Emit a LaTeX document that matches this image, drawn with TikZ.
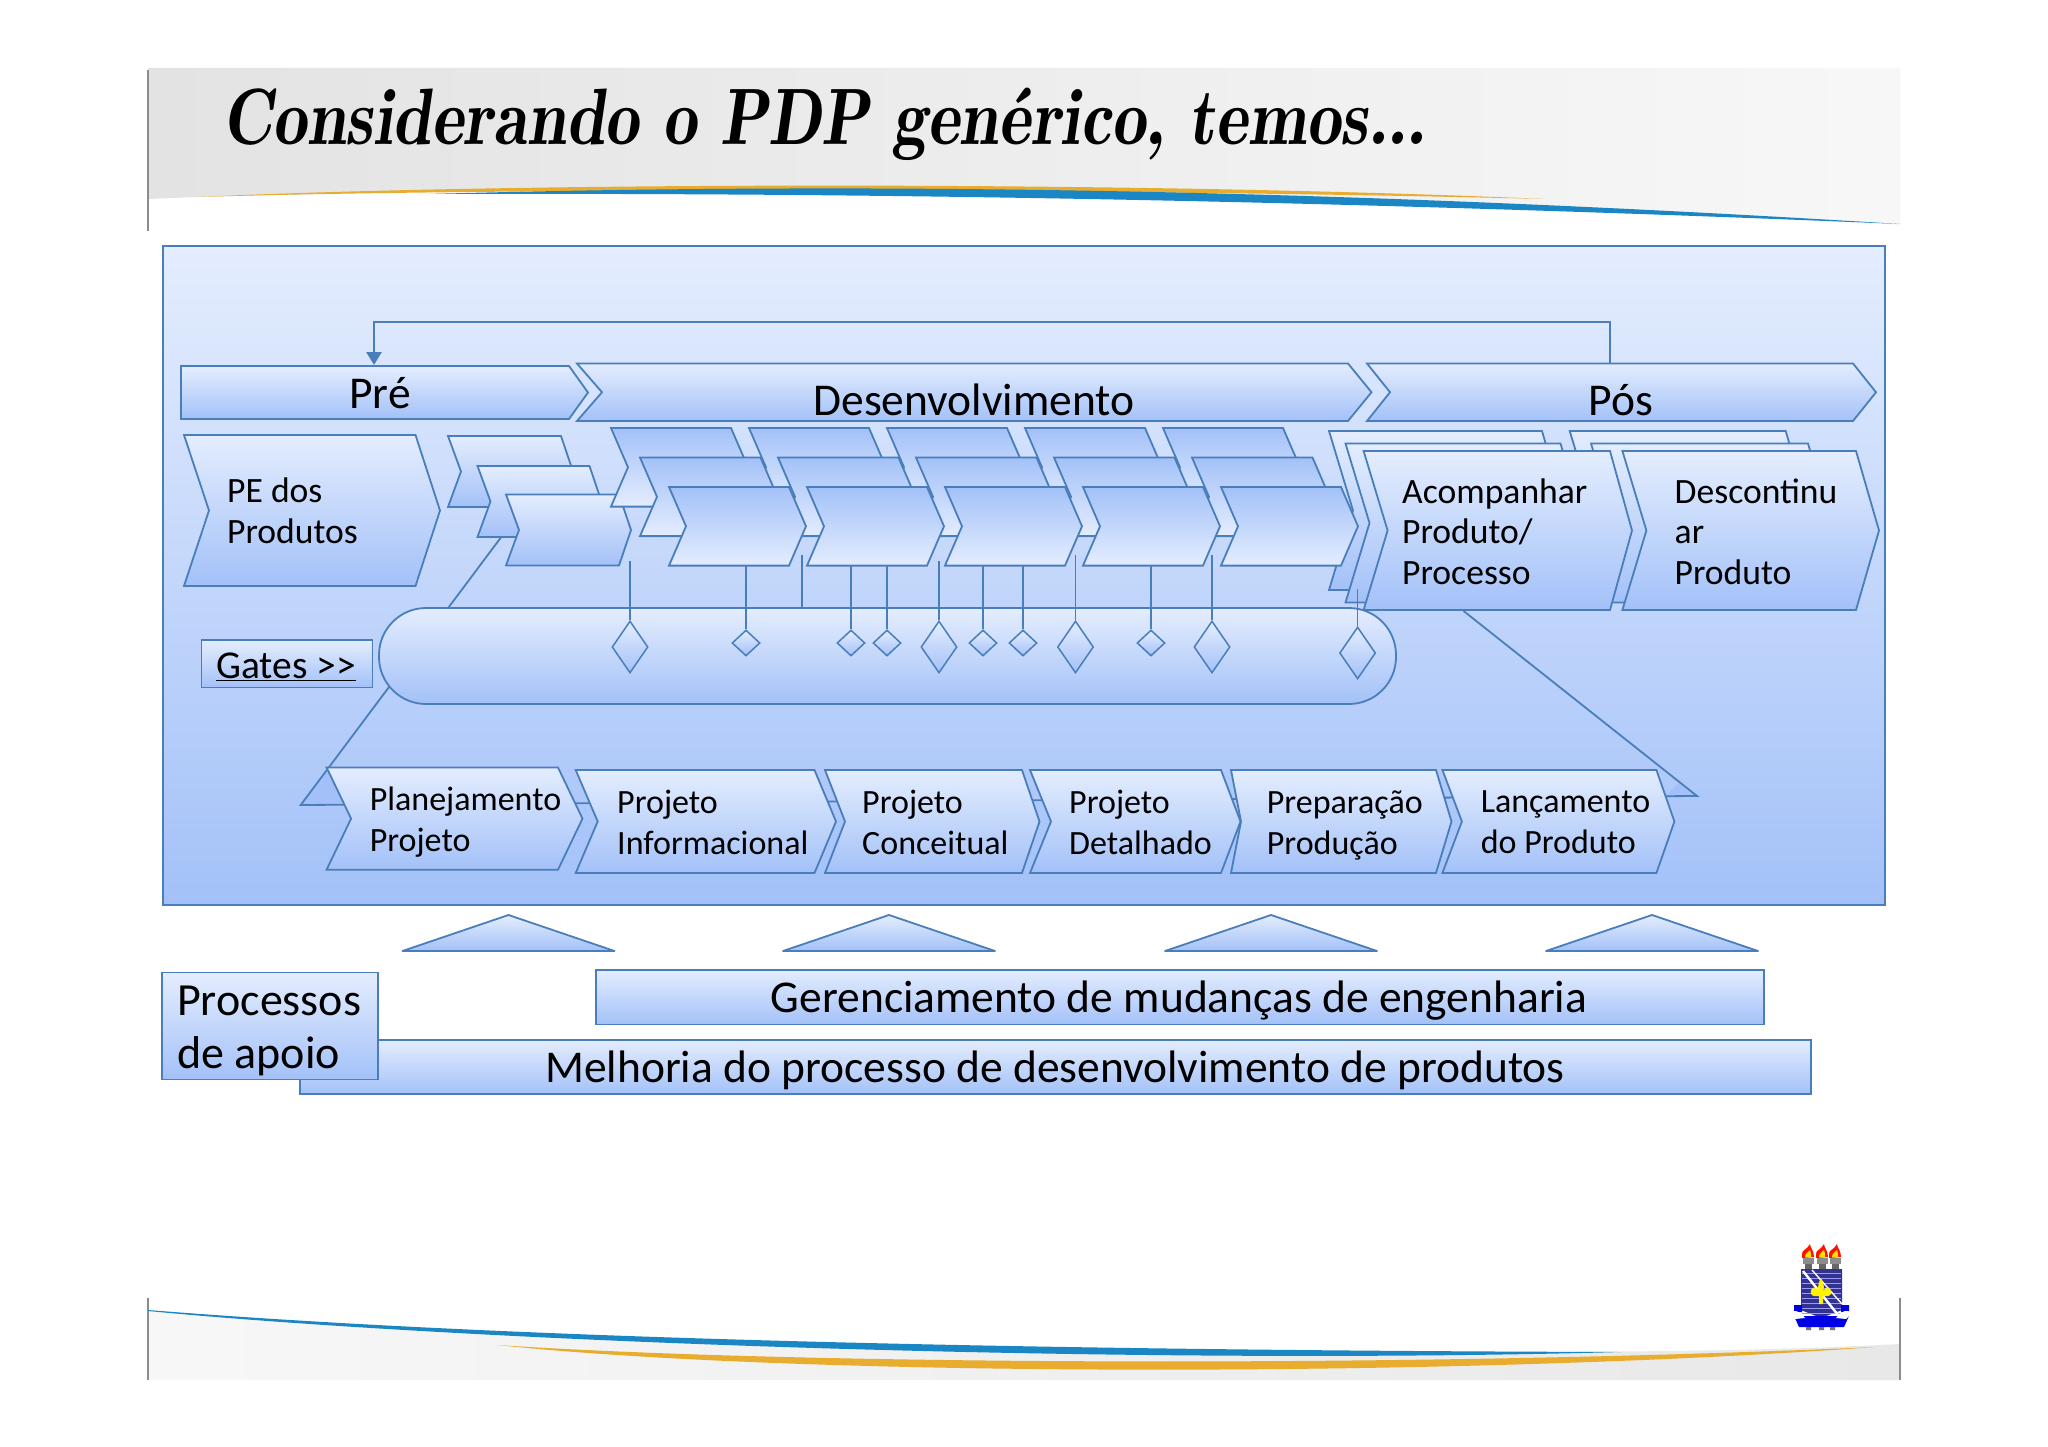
\documentclass[tikz,border=0pt]{standalone}
\usepackage{fontspec}
\usepackage{graphicx}
\setmainfont{Carlito}
\usetikzlibrary{arrows.meta,shapes.geometric,calc}
\definecolor{ln}{HTML}{4A7EBB}
\definecolor{lite}{HTML}{E4EDFE}
\definecolor{dark}{HTML}{A3C1F8}
\definecolor{gold}{HTML}{E8AC2E}
\definecolor{sky}{HTML}{1B86C4}
\tikzset{
  down/.style={top color=lite,bottom color=dark,draw=ln,line width=1.8pt,line join=miter},
  up/.style={top color=dark,bottom color=lite,draw=ln,line width=1.8pt,line join=miter},
  stem/.style={draw=ln,line width=1.7pt},
  gate/.style={diamond,inner sep=0pt,top color=lite,bottom color=dark,draw=ln,line width=1.5pt},
  gatebig/.style={gate,minimum width=36pt,minimum height=52pt},
  gatesmall/.style={gate,minimum width=28pt,minimum height=26pt},
  lbl/.style={anchor=west,align=left,inner sep=0pt,text=black,font=\fontsize{34}{41}\selectfont},
  lblbig/.style={anchor=west,align=left,inner sep=0pt,text=black,font=\fontsize{35.6}{40.6}\selectfont},
  big/.style={anchor=center,inner sep=0pt,text=black,font=\fontsize{45.5}{50}\selectfont},
}
% chevron: style, x, y, w, h, tip, notch
\newcommand{\chev}[7]{\path[#1] (#2,#3) -- ++(#4,0) -- ++(#6,{#5/2}) -- ++(-#6,{#5/2}) -- ++(-#4,0) -- ++(#7,{-#5/2}) -- cycle;}
\begin{document}
\begin{tikzpicture}[x=1pt,y=-1pt]
\useasboundingbox (0,0) rectangle (2048,1447);
\fill[white] (0,0) rectangle (2048,1447);
% header band
\path[left color=black!11,middle color=black!9,right color=black!3,shading angle=90]
  (148,68) -- (1900,68) -- (1900,225) .. controls (1250,186) and (700,182) .. (197,197) -- (148,199) -- cycle;
\draw[black!45,line width=1.2pt] (148,70) -- (148,231);
\fill[gold] (197,197) .. controls (500,183) and (1100,180) .. (1545,199) .. controls (1100,188) and (500,188) .. (197,197) -- cycle;
\fill[sky] (427,194) .. controls (800,184) and (1250,184) .. (1900,224) .. controls (1250,197) and (800,193) .. (427,194) -- cycle;
% footer band
\path[left color=black!3,middle color=black!13,right color=black!9]
  (148,1311) .. controls (450,1336) and (900,1352) .. (1400,1352) .. controls (1600,1352) and (1750,1352) .. (1900,1344) -- (1900,1380) -- (148,1380) -- cycle;
\draw[black!45,line width=1.2pt] (148,1298) -- (148,1380) (1900,1298) -- (1900,1380);
\fill[gold] (497,1345) .. controls (800,1365) and (1400,1368) .. (1875,1347) .. controls (1450,1378) and (800,1377) .. (497,1345) -- cycle;
\fill[sky] (148,1310) .. controls (450,1334) and (900,1350) .. (1622,1352) .. controls (1100,1366) and (450,1340) .. (148,1311) -- cycle;
% title
\node[anchor=base west,inner sep=0pt] (title) at (222,145) {\scalebox{0.87}[1]{\fontfamily{lmr}\fontsize{80}{90}\selectfont\bfseries\itshape Considerando o PDP genérico, temos...}};
% panel
\path[top color=lite,bottom color=dark,draw=ln,line width=2pt] (163,246) rectangle (1885,905);
% trapezoid behind the flow
\fill[dark] (300.7,805) -- (329,767) -- (344,805) -- cycle;
\fill[dark] (1665,796) -- (1680,782) -- (1697,796) -- cycle;
\draw[ln,line width=1.8pt] (502,536) -- (300.7,805) -- (1697,796) -- (1463.6,611);
% Phase arrows
\chev{down}{181}{366}{388}{53}{19}{0}
\chev{down}{577}{363.5}{771}{57.5}{23.5}{25}
\chev{down}{1367}{363.5}{486}{57.5}{23}{23}
\node[big] (pre) at (380,393) {Pré};
\node[big] (des) at (974,400) {Desenvolvimento};
\node[big] (pos) at (1621,400) {Pós};
\coordinate (fbA) at (1610,363.5);
\coordinate (fbB) at (374,365);
\draw[draw=ln,line width=2.6pt,-{Triangle[length=13pt,width=15pt]}] (fbA) -- ++(0,-41.5) -| (fbB);
% PE dos Produtos
\chev{down}{184}{435}{231.5}{151}{24.5}{25}
\node[lblbig] (pe) at (227,511) {PE dos\\Produtos};
% small stack
\chev{down}{448}{436}{113}{71}{12}{13}
\chev{down}{477.5}{466}{112}{71}{12}{13}
\chev{down}{506}{494.5}{113}{71}{12}{13}
% rear layers of the post stacks
\chev{down}{1329}{431}{213}{159}{23}{24}
\chev{down}{1345.5}{443.5}{215}{159}{23}{24}
\chev{down}{1569.7}{431}{216}{159}{23}{24}
\chev{down}{1591}{443.5}{217}{159}{23}{24}
% five columns of stacks, layer by layer
\foreach \c in {4,3,2,1,0}{
  \pgfmathsetmacro{\xa}{611+138*\c}
  \chev{up}{\xa}{428}{120}{78.6}{17}{17}
}
\foreach \c in {4,3,2,1,0}{
  \pgfmathsetmacro{\xb}{640+138*\c}
  \chev{up}{\xb}{457.5}{120.5}{78.6}{17}{17}
}
\foreach \c in {4,3,2,1,0}{
  \pgfmathsetmacro{\xc}{669+138*\c}
  \chev{up}{\xc}{487}{120}{78.6}{17}{17}
}
% capsule
\path[down,rounded corners=47pt] (379,608) rectangle (1396,704);
% post stacks, front
\chev{down}{1363.6}{451}{246.4}{159}{22}{24}
\chev{down}{1622.4}{451}{233.6}{159}{23}{24}
\node[lblbig] (ac) at (1402,531.6) {Acompanhar\\Produto/\\Processo};
\node[lblbig] (dc) at (1674.5,531.6) {Descontinu\\ar\\Produto};
% gates
\node[gatebig] (d1) at (630,647) {};
\node[gatesmall] (d2) at (746,643) {};
\node[gatesmall] (d3) at (851,643) {};
\node[gatesmall] (d4) at (887,643) {};
\node[gatebig] (d5) at (939,647) {};
\node[gatesmall] (d6) at (983,643) {};
\node[gatesmall] (d7) at (1023,643) {};
\node[gatebig] (d8) at (1075.5,647) {};
\node[gatesmall] (d9) at (1151,643) {};
\node[gatebig] (d10) at (1212,647) {};
\node[gatebig,minimum height=52pt] (d11) at (1357.6,653) {};
\foreach \n/\t in {d1/561,d2/565.6,d3/565.6,d4/565.6,d5/561,d6/565.6,d7/565.6,d8/555,d9/565.6,d10/555,d11/589}{
  \draw[stem] (\n.north) -- (\n.north |- 0,\t);
}
\coordinate (tkA) at (802,555);
\coordinate (tkB) at (802,608);
\draw[stem] (tkA) -- (tkB);
% Gates box
\path[down] (201.5,640) rectangle (372.5,687.5);
\node[anchor=center,inner sep=0pt,font=\fontsize{39.5}{40}\selectfont] (gt) at (286,667) {\underline{Gates >{}>}};
% lower row
\chev{down}{326.6}{767.5}{231.4}{102.2}{24.5}{24.5}
\chev{down}{575.7}{770}{238.8}{103}{21.5}{22}
\chev{down}{825}{770}{197}{103}{17.5}{20}
\chev{down}{1030}{770}{191}{103}{19.5}{21}
\chev{down}{1231}{770}{205}{103}{15.5}{10}
\chev{down}{1442.4}{770}{214}{103}{18}{19.5}
\node[lbl] (p1) at (369.6,822) {Planejamento\\Projeto};
\node[lbl] (p2) at (617,822) {Projeto\\Informacional};
\node[lbl] (p3) at (862,822) {Projeto\\Conceitual};
\node[lbl] (p4) at (1069,822) {Projeto\\Detalhado};
\node[lbl] (p5) at (1266.7,825) {Preparação\\Produção};
\node[lbl] (p6) at (1480.6,822) {Lançamento\\do Produto};
% triangles
\foreach \x in {508.5,889,1271,1652}{
  \path[down,line width=1.8pt,line join=round] (\x-106,951) -- (\x,915) -- (\x+106,951) -- cycle;
}
% support processes
\path[down] (596,970) rectangle (1764,1024.5);
\node[big] (ger) at (1179,1001) {Gerenciamento de mudanças de engenharia};
\path[down] (299.6,1040) rectangle (1811,1094);
\node[big] (mel) at (1055,1070) {Melhoria do processo de desenvolvimento de produtos};
\path[down] (162,972.5) rectangle (377.7,1079.5);
\node[anchor=west,align=left,inner sep=0pt,font=\fontsize{46}{53}\selectfont] (pr) at (177,1031) {Processos\\de apoio};
% crest
\begin{scope}
  \foreach \x in {1808,1822,1835}{
    \fill[red!85!orange] (\x-6,1255) .. controls (\x-7,1250) and (\x-1,1250) .. (\x+2,1244) .. controls (\x+2,1248) and (\x+6,1250) .. (\x+6,1257) -- (\x-6,1258) -- cycle;
    \fill[yellow!85!orange] (\x-3,1257) .. controls (\x-3,1253) and (\x,1253) .. (\x+2,1250) .. controls (\x+3,1252) and (\x+3,1255) .. (\x+3,1257) -- cycle;
    \fill[black!45] (\x-5.5,1258) rectangle (\x+5.5,1264);
    \fill[black!60] (\x-3.5,1264) rectangle (\x+3.5,1269);
  }
  \fill[blue!45!black!80] (1801,1269) -- (1842,1269) -- (1842,1310) -- (1821,1318) -- (1801,1310) -- cycle;
  \foreach \yy in {1273,1278,...,1313}{\draw[white!60!blue,line width=0.8pt] (1802,\yy) -- (1841,\yy);}
  \draw[white,line width=2.4pt] (1803,1271) -- (1838,1315);
  \draw[white,line width=1.4pt] (1812,1270) -- (1842,1304);
  \fill[yellow] (1821,1278) .. controls (1825,1285) and (1824,1290) .. (1823,1291) .. controls (1826,1286) and (1832,1286) .. (1831,1294) .. controls (1829,1297) and (1825,1296) .. (1823,1296) -- (1823,1304) -- (1819,1304) -- (1819,1296) .. controls (1817,1296) and (1813,1297) .. (1811,1294) .. controls (1810,1286) and (1816,1286) .. (1819,1291) .. controls (1818,1290) and (1817,1285) .. (1821,1278) -- cycle;
  \fill[blue!90!black] (1794,1305) rectangle (1802,1312) (1841,1305) rectangle (1849,1312);
  \fill[blue!90!black] (1794,1316) -- (1849,1316) -- (1844,1327) -- (1799,1327) -- cycle;
  \fill[white] (1790,1314) .. controls (1792,1308) and (1800,1311) .. (1805,1318) -- (1795,1319) -- cycle;
  \fill[white] (1851,1314) .. controls (1849,1308) and (1841,1311) .. (1836,1318) -- (1846,1319) -- cycle;
  \fill[black!55] (1806,1327) rectangle (1811,1330) (1819,1327) rectangle (1824,1330) (1830,1327) rectangle (1835,1330);
\end{scope}
\end{tikzpicture}
\end{document}
